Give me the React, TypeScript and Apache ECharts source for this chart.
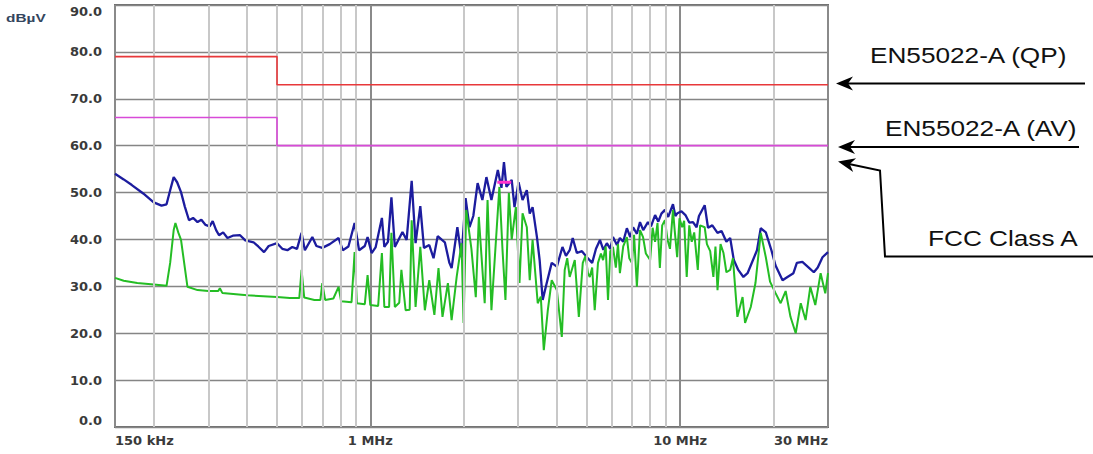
import React, { useEffect, useRef } from "react";
import * as echarts from "echarts";

// Frequencies in MHz, levels in dBµV
const MINOR_GRID_FREQS = [0.2, 0.3, 0.4, 0.5, 0.6, 0.7, 0.8, 0.9, 2, 3, 4, 5, 6, 7, 8, 9, 20];

const QP_LIMIT_FREQ = [0.15, 0.5, 0.5, 30];
const QP_LIMIT_DB = [79, 79, 73, 73];
const AV_LIMIT_FREQ = [0.15, 0.5, 0.5, 30];
const AV_LIMIT_DB = [66, 66, 60, 60];

const PEAK_FREQ = [
  0.15, 0.16, 0.17, 0.185, 0.2, 0.212, 0.22, 0.226, 0.232, 0.238, 0.245, 0.252, 0.26, 0.268,
  0.277, 0.285, 0.294, 0.303, 0.31, 0.318, 0.325, 0.335, 0.346, 0.36, 0.38, 0.395, 0.42, 0.435,
  0.454, 0.47, 0.5, 0.52, 0.54, 0.56, 0.58, 0.6, 0.615, 0.65, 0.67, 0.7, 0.74, 0.79, 0.815,
  0.85, 0.89, 0.92, 0.96, 0.98, 1.01, 1.04, 1.09, 1.11, 1.14, 1.17, 1.2, 1.27, 1.31, 1.36,
  1.4, 1.45, 1.49, 1.55, 1.6, 1.65, 1.74, 1.8, 1.83, 1.91, 1.97, 2.03, 2.09, 2.15, 2.22, 2.3,
  2.37, 2.46, 2.58, 2.65, 2.7, 2.75, 2.86, 2.92, 3.01, 3.1, 3.2, 3.27, 3.34, 3.45, 3.52, 3.6,
  3.71, 3.85, 4.0, 4.17, 4.28, 4.4, 4.5, 4.64, 4.82, 5.0, 5.2, 5.35, 5.51, 5.65, 5.8, 5.95,
  6.07, 6.25, 6.39, 6.55, 6.73, 6.9, 7.05, 7.25, 7.42, 7.6, 7.87, 8.05, 8.3, 8.5, 8.7, 8.93,
  9.15, 9.48, 9.65, 9.8, 10.1, 10.4, 10.7, 11.0, 11.3, 11.5, 12.0, 12.3, 12.7, 13.2, 13.6, 14.1,
  14.5, 14.9, 15.4, 16.0, 16.5, 17.7, 18.2, 18.9, 19.7, 20.3, 21.4, 22.2, 23.2, 23.8, 24.8,
  26.0, 27.0, 27.8, 28.8, 30,
];
const PEAK_DB = [
  54.0, 52.8, 51.6, 49.8, 47.9, 47.2, 47.5, 50.5, 53.3, 52.2, 50.1, 47.0, 44.1, 44.6,
  43.7, 44.2, 43.1, 42.8, 43.9, 42.0, 40.9, 41.5, 40.3, 40.8, 40.9, 39.8, 39.4, 38.5,
  37.3, 38.6, 39.2, 38.0, 37.7, 38.4, 38.0, 41.4, 37.7, 40.5, 38.6, 38.2, 39.0, 40.3, 37.7,
  38.5, 43.5, 37.7, 38.6, 40.5, 37.1, 38.3, 44.6, 38.4, 39.5, 49.0, 38.4, 41.6, 39.9, 52.5,
  39.2, 47.1, 38.2, 38.8, 36.0, 40.7, 39.4, 35.0, 33.9, 42.6, 36.2, 48.8, 42.6, 45.0, 52.0, 48.4,
  53.3, 48.4, 54.8, 51.0, 56.5, 51.2, 52.7, 46.9, 52.2, 48.4, 50.5, 45.5, 46.9, 40.5, 35.6, 27.1,
  30.7, 35.0, 34.2, 38.4, 36.5, 37.7, 40.3, 37.1, 37.5, 36.2, 35.0, 38.0, 39.9, 37.8, 39.2, 38.0,
  40.5, 38.8, 40.3, 39.5, 42.4, 40.5, 42.6, 41.2, 43.7, 42.0, 43.7, 42.8, 45.2, 43.8, 45.5, 46.3,
  44.8, 47.5, 45.0, 45.6, 46.0, 45.2, 43.6, 43.7, 42.6, 45.0, 47.3, 42.5, 43.0, 41.4, 41.8, 39.5,
  40.3, 35.6, 33.5, 32.0, 32.8, 37.7, 42.4, 41.5, 37.7, 34.5, 31.3, 32.0, 32.8, 35.0, 35.2,
  34.0, 33.0, 34.0, 36.2, 37.3,
];

const AVG_FREQ = [
  0.15, 0.16, 0.177, 0.2, 0.22, 0.226, 0.232, 0.235, 0.24, 0.245, 0.252, 0.257, 0.277, 0.3,
  0.323, 0.327, 0.333, 0.4, 0.5, 0.55, 0.59, 0.6, 0.612, 0.66, 0.69, 0.7, 0.715, 0.76, 0.79,
  0.805, 0.87, 0.89, 0.905, 0.96, 0.98, 1.0, 1.06, 1.09, 1.11, 1.15, 1.17, 1.2, 1.24, 1.26,
  1.3, 1.34, 1.36, 1.4, 1.45, 1.5, 1.55, 1.61, 1.66, 1.71, 1.78, 1.83, 1.9, 1.97, 2.0, 2.04,
  2.12, 2.19, 2.24, 2.34, 2.39, 2.46, 2.56, 2.61, 2.67, 2.73, 2.8, 2.86, 2.95, 3.03, 3.1, 3.2,
  3.27, 3.34, 3.47, 3.55, 3.63, 3.74, 3.85, 4.0, 4.15, 4.24, 4.32, 4.4, 4.57, 4.71, 4.85, 4.95,
  5.04, 5.11, 5.2, 5.3, 5.43, 5.55, 5.64, 5.75, 5.85, 5.95, 6.07, 6.2, 6.3, 6.39, 6.55, 6.73,
  6.85, 6.99, 7.1, 7.25, 7.42, 7.59, 7.75, 8.0, 8.15, 8.3, 8.45, 8.6, 8.75, 8.93, 9.1, 9.27,
  9.48, 9.6, 9.78, 9.95, 10.15, 10.3, 10.5, 10.7, 10.9, 11.1, 11.4, 11.6, 12.0, 12.2, 12.5,
  12.8, 13.0, 13.2, 13.5, 13.8, 14.1, 14.5, 14.8, 15.3, 15.9, 16.2, 16.9, 17.5, 18.2, 18.9,
  19.5, 20.3, 21.1, 21.9, 22.7, 23.6, 24.5, 25.4, 26.3, 27.3, 28.4, 29.4, 30,
];
const AVG_DB = [
  31.8, 31.2, 30.7, 30.4, 30.1, 35.0, 42.0, 43.5, 41.5, 39.9, 34.0, 29.9, 29.2, 29.0,
  29.0, 29.6, 28.6, 28.1, 27.7, 27.5, 27.5, 33.5, 27.6, 27.1, 27.1, 30.7, 27.1, 27.4, 29.9,
  26.8, 26.6, 37.3, 26.4, 26.2, 32.4, 26.0, 25.8, 37.1, 25.6, 25.6, 41.4, 25.6, 26.5, 33.5,
  24.9, 25.0, 44.1, 25.6, 38.4, 24.9, 31.3, 23.9, 33.9, 23.5, 30.7, 22.8, 32.0, 39.2, 22.2, 46.3,
  38.0, 27.7, 44.8, 26.4, 48.4, 24.9, 42.6, 51.2, 38.0, 27.1, 49.9, 40.0, 46.9, 30.7, 45.6, 42.6,
  31.3, 39.9, 26.4, 27.8, 16.4, 24.9, 31.3, 29.2, 19.2, 33.5, 36.0, 32.0, 35.6, 23.5, 35.0, 36.5,
  32.8, 32.0, 34.0, 24.9, 35.0, 37.0, 35.6, 38.5, 27.1, 37.5, 38.4, 34.0, 39.0, 32.8, 38.5, 40.5,
  36.0, 35.0, 41.0, 29.9, 42.0, 40.5, 37.0, 35.6, 42.5, 39.5, 43.5, 33.9, 43.0, 44.1, 40.0, 38.0,
  46.3, 42.0, 36.2, 44.5, 42.6, 44.0, 32.0, 43.0, 39.5, 41.5, 33.5, 43.0, 42.6, 39.0, 37.5,
  32.0, 38.5, 29.2, 39.0, 37.1, 33.0, 33.5, 36.0, 23.5, 27.7, 22.2, 25.6, 30.7, 41.4, 36.2,
  31.0, 28.6, 26.4, 29.0, 23.5, 20.0, 26.4, 22.8, 29.9, 26.0, 32.8, 28.5, 32.8,
];

const MARKER_FREQ = [2.57, 2.85];
const MARKER_DB = [52.2, 52.2];

const zip = (xs: number[], ys: number[]) => xs.map((x, i) => [x, ys[i]]);

const freqLabel = (v: number) => (v < 1 ? `${Math.round(v * 1000)} kHz` : `${Math.round(v)} MHz`);

// Filled "stealth" arrowhead with its tip at the local origin, pointing left
const arrowHead = (x: number, y: number, rotation = 0) => ({
  type: "polygon",
  x,
  y,
  rotation,
  shape: { points: [[0, 0], [17, -7], [12, 0], [17, 7]] },
  style: { fill: "#000" },
  z: 100,
});

const annotationText = (text: string, x: number, y: number) => ({
  type: "text",
  x,
  y,
  scaleX: 1.19,
  style: {
    text,
    fill: "#111",
    font: "22px 'Liberation Sans', Arial, sans-serif",
    textAlign: "left",
    textVerticalAlign: "middle",
  },
  z: 100,
});

const fccAngle = Math.atan2(9, 42);

const tickFont = {
  fontFamily: "'DejaVu Sans', sans-serif",
  fontWeight: "bold",
  fontSize: 13,
  color: "#3a3a3a",
};

export default function App() {
  const ref = useRef<HTMLDivElement>(null);

  useEffect(() => {
    if (!ref.current) return;
    const chart = echarts.init(ref.current, undefined, { renderer: "svg" });

    chart.setOption({
      animation: false,
      backgroundColor: "#fff",
      grid: {
        left: 115,
        right: 265,
        top: 5,
        bottom: 27,
        show: true,
        borderColor: "#6f6f6f",
        borderWidth: 2,
        outerBoundsMode: "none",
      },
      xAxis: {
        type: "log",
        logBase: 10,
        min: 0.15,
        max: 30,
        axisLine: { show: false },
        axisTick: { show: false },
        axisLabel: {
          formatter: freqLabel,
          showMinLabel: true,
          showMaxLabel: true,
          alignMinLabel: "left",
          alignMaxLabel: "right",
          margin: 7,
          ...tickFont,
        },
        splitLine: { show: true, lineStyle: { color: "#8a8a8a", width: 2 } },
      },
      yAxis: {
        type: "value",
        min: 0,
        max: 90,
        interval: 10,
        axisLine: { show: false },
        axisTick: { show: false },
        axisLabel: {
          formatter: (v: number) => v.toFixed(1),
          margin: 13,
          verticalAlignMaxLabel: "top",
          verticalAlignMinLabel: "bottom",
          ...tickFont,
        },
        splitLine: { show: true, lineStyle: { color: "#858585", width: 1.3 } },
      },
      series: [
        {
          name: "grid",
          type: "line",
          data: [],
          z: 1,
          silent: true,
          markLine: {
            silent: true,
            symbol: ["none", "none"],
            label: { show: false },
            lineStyle: { color: "#c8c8c8", width: 2, type: "solid" },
            data: MINOR_GRID_FREQS.map((f) => ({ xAxis: f })),
          },
        },
        {
          name: "Peak",
          type: "line",
          data: zip(PEAK_FREQ, PEAK_DB),
          showSymbol: false,
          z: 3,
          lineStyle: { color: "#1c1c9e", width: 2.3 },
        },
        {
          name: "Average",
          type: "line",
          data: zip(AVG_FREQ, AVG_DB),
          showSymbol: false,
          z: 4,
          lineStyle: { color: "#24bd24", width: 2 },
        },
        {
          name: "EN55022-A (QP)",
          type: "line",
          data: zip(QP_LIMIT_FREQ, QP_LIMIT_DB),
          showSymbol: false,
          z: 5,
          lineStyle: { color: "#e8383a", width: 1.6 },
        },
        {
          name: "EN55022-A (AV)",
          type: "line",
          data: zip(AV_LIMIT_FREQ, AV_LIMIT_DB),
          showSymbol: false,
          z: 5,
          lineStyle: { color: "#d84ad8", width: 1.6 },
        },
        {
          name: "Marker",
          type: "line",
          data: zip(MARKER_FREQ, MARKER_DB),
          showSymbol: false,
          z: 6,
          lineStyle: { color: "#ff33cc", width: 3 },
        },
      ],
      graphic: [
        {
          type: "text",
          x: 6,
          y: 18,
          scaleX: 1.4,
          style: {
            text: "dBµV",
            fill: "#34465e",
            font: "bold 11px 'Liberation Sans', Arial, sans-serif",
            textAlign: "left",
            textVerticalAlign: "middle",
          },
        },
        annotationText("EN55022-A (QP)", 870, 55),
        annotationText("EN55022-A (AV)", 885, 128),
        annotationText("FCC Class A", 928, 238),
        {
          type: "line",
          shape: { x1: 848, y1: 83.5, x2: 1085, y2: 83.5 },
          style: { stroke: "#000", lineWidth: 2 },
          z: 100,
        },
        arrowHead(836, 83.5),
        {
          type: "line",
          shape: { x1: 850, y1: 147, x2: 1079, y2: 147 },
          style: { stroke: "#000", lineWidth: 2 },
          z: 100,
        },
        arrowHead(838, 147),
        {
          type: "polyline",
          shape: { points: [[1093, 256.5], [885, 256.5], [880, 170.5], [849, 164]] },
          style: { stroke: "#000", lineWidth: 2, fill: null },
          z: 100,
        },
        arrowHead(838, 161.5, -fccAngle),
      ],
    });

    return () => chart.dispose();
  }, []);

  return (
    <div
      ref={ref}
      style={{ position: "absolute", left: 0, top: 0, width: 1093, height: 454 }}
    />
  );
}
